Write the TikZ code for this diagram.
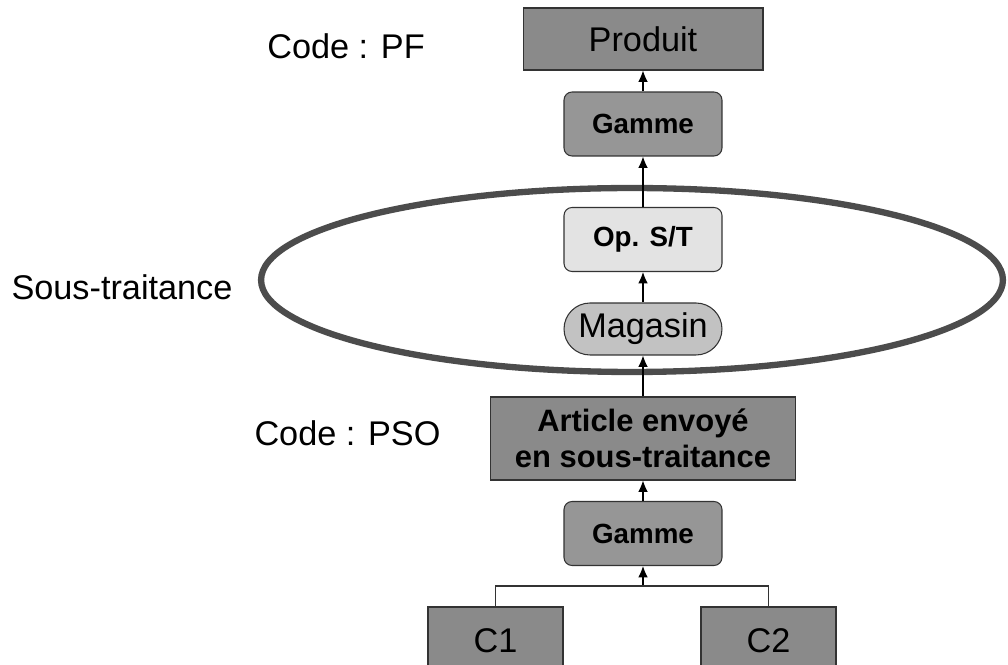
\documentclass[tikz,border=0pt]{standalone}
\usepackage{fontspec}
\setmainfont{Liberation Sans}
\usepackage{tikz}
\usetikzlibrary{positioning, calc, arrows.meta}
\definecolor{darkbox}{gray}{0.54}
\definecolor{midbox}{gray}{0.59}
\definecolor{lightbox}{gray}{0.89}
\definecolor{storebox}{gray}{0.76}
\definecolor{ringgray}{gray}{0.3}
\definecolor{edgegray}{gray}{0.2}
\tikzset{
    box/.style={draw=edgegray, line width=0.6pt, inner sep=0pt, align=center,
        font=\fontsize{19.5}{22}\selectfont},
    partbox/.style={box, fill=darkbox},
    gammebox/.style={box, fill=midbox, rounded corners=0.16cm, minimum width=3.16cm,
        minimum height=1.28cm, font=\fontsize{15.8}{18}\selectfont\bfseries},
    codetext/.style={inner sep=0pt, font=\fontsize{19.5}{22}\selectfont},
    link/.style={line width=0.6pt, -{Latex[length=6.5pt,width=5.5pt]}}
}

\begin{document}
\begin{tikzpicture}[x=0.02cm, y=-0.02cm]
        \useasboundingbox (0,0) rectangle (1008,665);
        \clip (0,0) rectangle (1008,665);
        \draw[ringgray, line width=3.6pt] (632,280) ellipse [x radius=7.42cm, y radius=1.84cm];
        \node[partbox, minimum width=4.8cm, minimum height=1.24cm] (Produit) at (643,39) {Produit};
        \node[gammebox] (GammePF) at (643,124) {Gamme};
        \node[gammebox, fill=lightbox] (OpST) at (643,239.5) {Op. S/T};
        \node[box, fill=storebox, rounded corners=0.52cm, minimum width=3.16cm,
            minimum height=1.04cm] (Magasin) at (643,329) {Magasin};
        \node[partbox, minimum width=6.1cm, minimum height=1.66cm,
            font=\fontsize{17.6}{20.8}\selectfont\bfseries] (Article) at (643,438.5)
            {Article envoyé\\en sous-traitance};
        \node[gammebox] (GammePSO) at (643,533.5) {Gamme};
        \node[partbox, minimum width=2.7cm, minimum height=1.36cm] (C1) at (495.5,641) {C1};
        \node[partbox, minimum width=2.7cm, minimum height=1.36cm] (C2) at (768.5,641) {C2};
        \coordinate (fork) at (643,586);
        \node[codetext] (CodePF) at (346,46) {Code : PF};
        \node[codetext] (SousTraitance) at (122,287) {Sous-traitance};
        \node[codetext] (CodePSO) at (347.5,433) {Code : PSO};
        \draw[link] (GammePF) -- (Produit);
        \draw[link] (OpST) -- (GammePF);
        \draw[link] (Magasin) -- (OpST);
        \draw[link] (Article) -- (Magasin);
        \draw[link] (GammePSO) -- (Article);
        \draw[link] (fork) -- (GammePSO);
        \draw[edgegray, line width=0.6pt] (C1.north) |- (fork) -| (C2.north);
\end{tikzpicture}
\end{document}
